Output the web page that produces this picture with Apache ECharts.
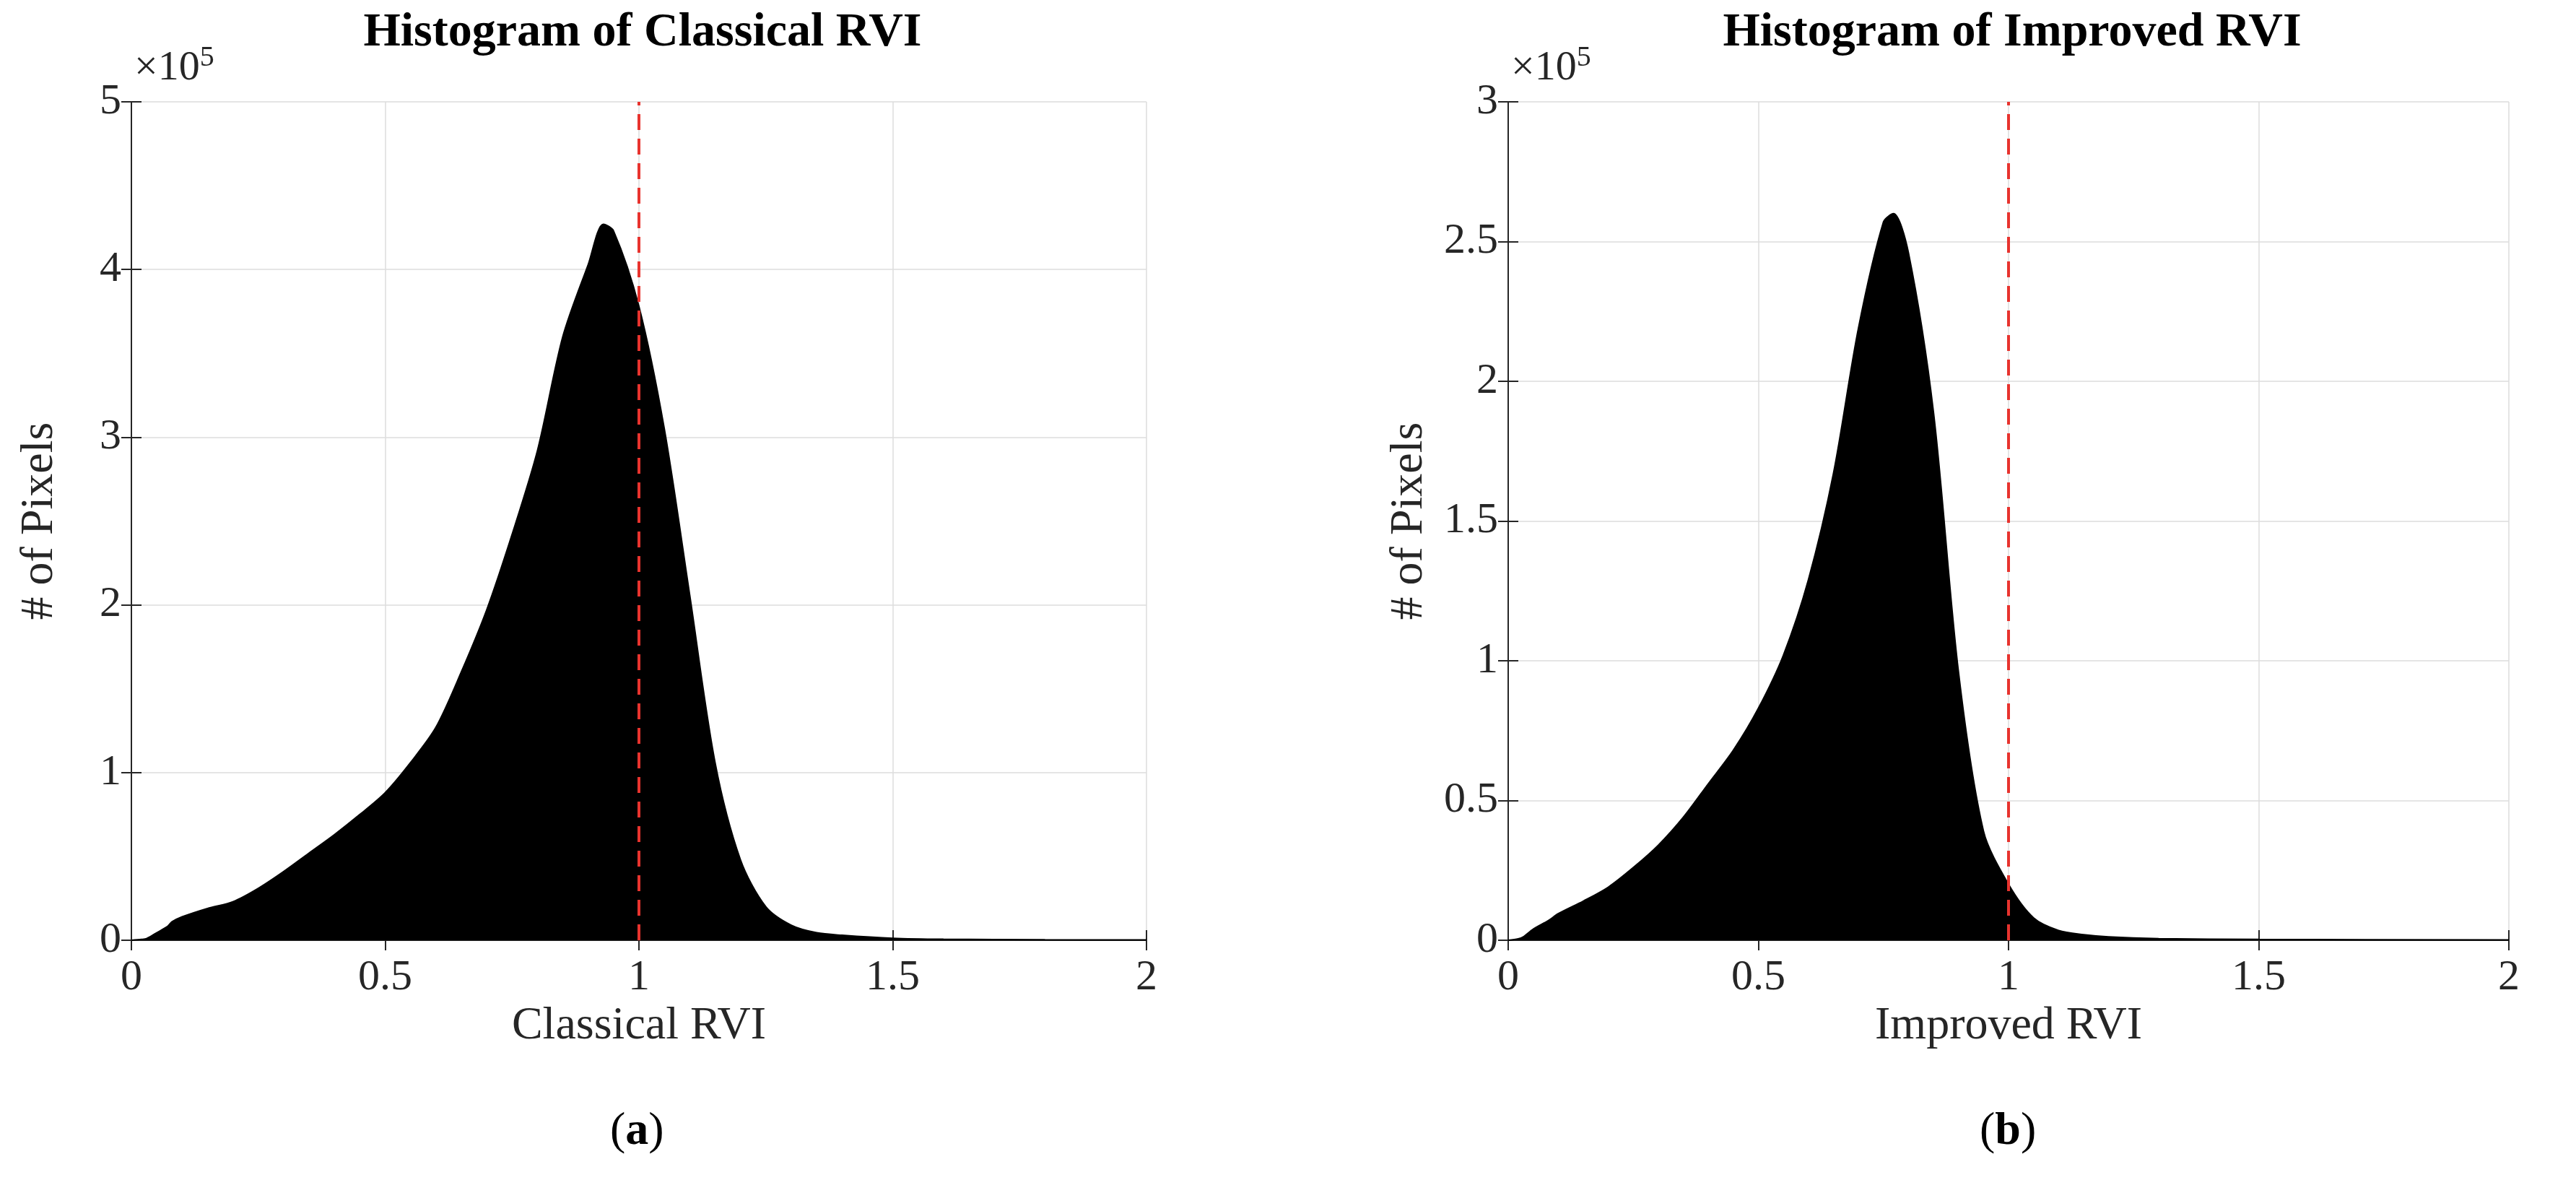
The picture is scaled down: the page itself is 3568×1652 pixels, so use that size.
<!DOCTYPE html>
<html><head><meta charset="utf-8">
<script src="https://cdn.jsdelivr.net/npm/echarts@6/dist/echarts.min.js"></script>
<style>html,body{margin:0;padding:0;background:#fff}#c{width:3568px;height:1652px}</style>
</head><body><div id="c"></div>
<script>
// units: x10^5 pixels
const xA = [0,0.02,0.03,0.05,0.07,0.08,0.1,0.15,0.2,0.25,0.3,0.35,0.4,0.45,0.5,0.55,0.6,0.65,0.7,0.75,0.8,0.85,0.9,0.93,0.95,1.0,1.05,1.1,1.15,1.2,1.25,1.3,1.35,1.4,1.5,1.6,1.8,2.0];
const yA = [0,0.005,0.01,0.045,0.08,0.11,0.14,0.19,0.23,0.31,0.41,0.52,0.63,0.75,0.88,1.06,1.27,1.6,1.97,2.42,2.92,3.6,4.03,4.27,4.23,3.78,3.05,2.06,1.06,0.48,0.2,0.09,0.045,0.03,0.012,0.006,0.003,0.002];
const xB = [0,0.02,0.03,0.05,0.08,0.1,0.15,0.2,0.25,0.3,0.35,0.4,0.45,0.5,0.55,0.6,0.65,0.7,0.75,0.77,0.8,0.85,0.9,0.95,1.0,1.05,1.1,1.15,1.2,1.3,1.5,2.0];
const yB = [0,0.005,0.012,0.04,0.07,0.095,0.14,0.19,0.26,0.34,0.44,0.56,0.68,0.83,1.02,1.29,1.67,2.19,2.57,2.6,2.46,1.89,0.96,0.39,0.2,0.08,0.035,0.02,0.012,0.006,0.003,0.001];
const xTicks = [0,0.5,1,1.5,2];
const titles = ['Histogram of Classical RVI','Histogram of Improved RVI'];
const xNames = ['Classical RVI','Improved RVI'];
const captions = ['a','b'];

const F = 'Liberation Serif';
const grids = [{left:182,width:1406,top:141,height:1161},{left:2089,width:1386,top:141,height:1161}];
const yMax = [5,3], yInt = [1,0.5];
const xAxis=[], yAxis=[], series=[], graphic=[], title=[];
grids.forEach((g,i)=>{
  const cx = g.left+g.width/2;
  xAxis.push({type:'value',gridIndex:i,min:0,max:2,interval:0.5,name:xNames[i],nameLocation:'middle',nameGap:68,
    nameTextStyle:{fontFamily:F,fontSize:64,color:'#262626'},
    axisLine:{lineStyle:{color:'#262626',width:2}},axisTick:{inside:true,length:14,lineStyle:{color:'#262626',width:2}},
    axisLabel:{fontFamily:F,fontSize:60,color:'#262626',margin:22,formatter:v=>String(v)},
    splitLine:{show:true,lineStyle:{color:'#dcdcdc',width:1.5}}});
  xAxis.push({type:'value',gridIndex:i,position:'top',min:0,max:2,interval:0.5,
    axisLine:{show:true,lineStyle:{color:'#262626',width:2}},axisTick:{inside:true,length:14,lineStyle:{color:'#262626',width:2}},
    axisLabel:{show:false},splitLine:{show:false}});
  yAxis.push({type:'value',gridIndex:i,min:0,max:yMax[i],interval:yInt[i],name:'# of Pixels',nameLocation:'middle',nameGap:i==0?95:105,
    nameTextStyle:{fontFamily:F,fontSize:64,color:'#262626'},
    axisLine:{show:true,lineStyle:{color:'#262626',width:2}},axisTick:{show:true,inside:true,length:14,lineStyle:{color:'#262626',width:2}},
    axisLabel:{fontFamily:F,fontSize:60,color:'#262626',margin:14,formatter:v=>String(v)},
    splitLine:{show:true,lineStyle:{color:'#dcdcdc',width:1.5}}});
  yAxis.push({type:'value',gridIndex:i,position:'right',min:0,max:yMax[i],interval:yInt[i],
    axisLine:{show:true,lineStyle:{color:'#262626',width:2}},axisTick:{show:true,inside:true,length:14,lineStyle:{color:'#262626',width:2}},
    axisLabel:{show:false},splitLine:{show:false}});
  const xs=i==0?xA:xB, ys=i==0?yA:yB;
  series.push({type:'line',xAxisIndex:2*i,yAxisIndex:2*i,data:xs.map((x,k)=>[x,ys[k]]),smooth:0.3,symbol:'none',
    lineStyle:{color:'#000',width:2},areaStyle:{color:'#000',opacity:1},
    markLine:{silent:true,symbol:'none',label:{show:false},lineStyle:{color:'#e8332e',type:[22,12],width:4},data:[{xAxis:1}]}});
  title.push({text:titles[i],left:cx,textAlign:'center',top:8,textStyle:{fontFamily:F,fontSize:66,fontWeight:'bold',color:'#000'}});
  graphic.push({type:'text',left:g.left+4,top:60,style:{text:'{a|×10}{b|5}',rich:{a:{fontFamily:F,fontSize:58,fill:'#262626'},b:{fontFamily:F,fontSize:40,fill:'#262626',verticalAlign:'top',padding:[0,0,30,0]}}}});
  graphic.push({type:'text',left:cx,top:1535,style:{text:'{p|(}{q|'+captions[i]+'}{p|)}',align:'center',rich:{p:{fontFamily:F,fontSize:64,fill:'#000'},q:{fontFamily:F,fontSize:64,fontWeight:'bold',fill:'#000'}}}});
});
graphic.forEach(g=>{ if(g.style.align==='center'){ g.left = g.left-40; } });
const chart = echarts.init(document.getElementById('c'));
chart.setOption({animation:false,backgroundColor:'#fff',title,grid:grids,xAxis,yAxis,series,graphic});
</script></body></html>
